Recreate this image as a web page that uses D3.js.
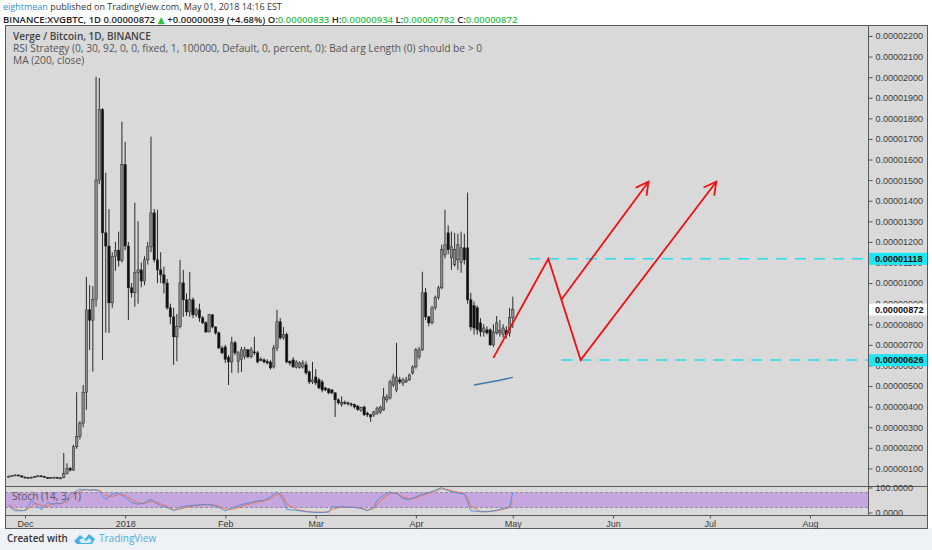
<!DOCTYPE html>
<html><head><meta charset="utf-8">
<script src="https://cdn.jsdelivr.net/npm/d3@7"></script>
<style>
html,body{margin:0;padding:0;background:#ffffff;}
svg{display:block;}
</style></head><body>
<svg id="chart" width="932" height="550"></svg>
<script>
// ---------- DATA (prices in units of 0.00000001 BTC) ----------
const firstDay = "2017-11-26";
const opens  = [60,62,66,68,64,58,56,55,57,60,64,62,56,52,55,57,54,
 55,75,100,92,205,255,320,470,870,820,920,1500,1842,1244,1180,904,1130,1160,1110,1575,1180,977,953,1050,1064,1010,1113,1176,1341,1113,1064,1040,1000,880,836,739,
 790,1001,919,860,919,846,870,831,807,763,846,787,758,685,690,640,617,710,620,630,645,676,642,666,661,630,627,620,617,593,685,812,734,750,620,627,590,590,593,603,569,520,544,530,520,491,486,481,467,433,410,420,418,413,410,403,381,398,369,360,360,369,374,384,433,442,505,481,530,515,520,530,564,593,642,676,953,836,807,880,929,977,1137,1244,1123,1089,1113,1100,1171,1171,919,890,880,807,763,773,773,700,758,758,750,770,758,833];
const highs  = [66,69,71,70,66,60,58,60,63,67,66,63,58,58,60,59,57,
 175,125,108,215,470,330,505,1030,990,985,2002,1996,1850,1536,1360,1150,1200,1250,1784,1686,1200,1000,1390,1300,1100,1130,1200,1711,1360,1356,1150,1080,1020,900,880,850,
 1113,1064,950,1055,930,880,900,840,815,850,850,790,765,695,700,650,739,720,670,690,690,680,690,739,670,640,635,630,625,700,870,830,787,760,625,640,625,620,625,620,575,617,583,540,530,495,490,485,470,440,450,430,425,420,415,408,400,405,375,365,380,400,405,491,460,530,560,710,545,540,545,560,600,685,690,1055,977,840,890,940,987,1186,1356,1280,1250,1244,1240,1250,1240,1439,953,910,890,830,800,790,780,800,840,820,800,790,880,934];
const lows   = [58,60,63,62,56,53,52,53,55,58,59,54,50,50,53,51,50,
 52,70,85,88,195,240,300,385,675,570,885,1480,627,760,758,880,1060,1080,1100,1160,821,930,885,900,980,990,1090,1150,1100,1000,1000,950,870,800,603,620,
 780,836,840,836,830,836,812,800,758,760,780,750,680,655,612,505,564,650,564,569,630,635,635,650,610,620,610,605,580,585,670,725,725,610,600,588,585,585,585,555,510,510,505,485,470,475,460,460,350,410,400,410,405,400,390,380,375,355,350,326,350,360,365,380,420,435,495,470,510,500,515,525,555,585,630,670,820,790,800,870,920,970,1120,1140,1064,1080,1064,1050,1090,900,770,750,750,740,740,750,695,690,750,740,735,730,740,782];
const closes = [62,66,68,64,58,56,55,57,60,64,62,56,52,55,57,54,52,
 75,100,92,205,255,320,470,870,820,920,1500,1842,1244,1180,904,1130,1160,1110,1575,1180,977,953,1050,1064,1010,1113,1176,1341,1113,1064,1040,1000,880,836,739,790,
 1001,919,860,919,846,870,831,807,763,846,787,758,685,661,630,617,710,661,661,676,676,642,676,661,617,627,617,612,588,685,812,734,750,617,612,593,617,612,612,564,520,530,515,491,481,481,467,467,433,418,420,418,413,408,398,386,395,360,360,350,374,393,398,447,447,520,544,544,520,530,530,554,593,676,676,953,836,807,880,929,977,1162,1186,1162,1176,1162,1186,1171,1113,919,787,782,773,763,782,758,700,763,807,770,782,750,833,872];

// Stochastic (14,3,1): day offsets from 2017-12-01, %K and %D (0-100)
const stochDays = [-5,-4,-3,-1,0,1,2,3,5,6,7,8,9,10,11,12,13,14,15,17,18,19,20,21,22,23,24,25,27,29,31,33,35,37,39,40,42,44,46,48,50,53,55,57,59,60,62,64,66,68,70,72,74,76,78,79,80,81,84,87,89,92,94,95,98,102,104,106,108,109,111,113,114,115,117,119,121,122,125,127,129,131,133,136,137,138,141,143,146,148,150,151];
const stochK = [27,15,7,7,9,25,47,38,10,25,40,35,33,38,35,45,53,73,80,93,90,92,88,92,90,85,67,53,73,78,60,40,33,38,53,42,27,20,7,20,27,30,32,33,25,20,7,18,28,35,40,47,49,63,83,69,49,12,9,3,1,0,3,23,23,20,16,7,23,49,69,83,76,76,56,52,63,69,80,89,100,87,80,73,43,7,3,3,9,16,23,80];
const stochD = [32,22,12,8,8,14,27,37,30,24,25,33,36,35,35,39,44,57,69,85,88,92,90,90,90,89,80,68,64,72,70,52,38,36,45,45,35,24,12,13,21,28,30,32,29,25,14,12,20,29,36,42,46,55,72,74,62,35,12,5,2,1,2,12,22,21,18,10,15,35,58,76,78,77,62,54,58,65,76,86,95,92,84,76,58,25,5,3,7,13,20,45];

// Axis ticks
const priceTicks = [100,200,300,400,500,600,700,800,900,1000,1100,1200,1300,1400,1500,1600,1700,1800,1900,2000,2100,2200];
const monthDates = ["2017-12-01","2018-01-01","2018-02-01","2018-03-01","2018-04-01","2018-05-01","2018-06-01","2018-07-01","2018-08-01"];
const monthLabels = ["Dec","2018","Feb","Mar","Apr","May","Jun","Jul","Aug"];

// Drawings
const zigzagPath = [["2018-04-25",637],["2018-05-12",1118],["2018-05-22",626],["2018-07-03",1492]];
const arrowPath2 = [["2018-05-16",919],["2018-06-12",1492]];
const levelPrices = [1118, 626];
const levelStarts = ["2018-05-06","2018-05-16"];
const maPath = [["2018-04-19",505],["2018-04-27",528],["2018-05-01",542]];
const lastPrice = 872;

// ---------- DRAW ----------
const parse = d3.utcParse("%Y-%m-%d");
const svg = d3.select("#chart");
const W = 932, H = 550;
const paneL = 5, paneR = 868, frameR = 927, paneT = 25, paneB = 486, stochB = 515, frameB = 528;

const x = d3.scaleUtc().domain([parse("2017-12-01"), parse("2018-08-01")]).range([25, 810]);
const y = d3.scaleLinear().domain([0, 2200]).range([489, 36]);
const sy = d3.scaleLinear().domain([0, 100]).range([512.5, 487.5]);

const start = parse(firstDay);
const candles = opens.map((o, i) => ({date: d3.utcDay.offset(start, i), o, h: highs[i], l: lows[i], c: closes[i]}));

// backgrounds
svg.append("rect").attr("x",0).attr("y",0).attr("width",W).attr("height",H).attr("fill","#ffffff");
svg.append("rect").attr("x",0).attr("y",frameB).attr("width",W).attr("height",H-frameB).attr("fill","#eef1f5");
svg.append("rect").attr("x",paneL).attr("y",paneT).attr("width",frameR-paneL).attr("height",frameB-paneT).attr("fill","#d9d9d9");

// stoch band
svg.append("rect").attr("x",paneL).attr("y",sy(80)).attr("width",paneR-paneL).attr("height",sy(20)-sy(80)).attr("fill","#c6a6df");
[80,20].forEach(v => svg.append("line").attr("x1",paneL).attr("x2",paneR).attr("y1",sy(v)).attr("y2",sy(v))
  .attr("stroke","#8a7a9a").attr("stroke-width",0.8).attr("stroke-dasharray","3,2"));

// candles
const g = svg.append("g");
const bw = 2.4;
candles.forEach(d => {
  const cx = x(d.date);
  const up = d.c >= d.o;
  g.append("line").attr("x1",cx).attr("x2",cx).attr("y1",y(d.h)).attr("y2",y(d.l)).attr("stroke","#2a2a2a").attr("stroke-width",1);
  const top = y(Math.max(d.o,d.c)), bot = y(Math.min(d.o,d.c));
  g.append("rect").attr("x",cx-bw/2).attr("y",top).attr("width",bw).attr("height",Math.max(1,bot-top))
    .attr("fill", up ? "#8a8a8a" : "#111111").attr("stroke","#222").attr("stroke-width",0.5);
});

// MA line
svg.append("path").datum(maPath).attr("fill","none").attr("stroke","#3f78b0").attr("stroke-width",1.4)
  .attr("d", d3.line().x(p=>x(parse(p[0]))).y(p=>y(p[1])));

// level dashed lines
levelPrices.forEach((p,i) => {
  svg.append("line").attr("x1",x(parse(levelStarts[i]))).attr("x2",paneR).attr("y1",y(p)).attr("y2",y(p))
    .attr("stroke","#22e0ee").attr("stroke-width",1.5).attr("stroke-dasharray","11,8");
});

// red arrows
const lineGen = d3.line().x(p=>x(parse(p[0]))).y(p=>y(p[1]));
function arrowHead(path){
  const a = path[path.length-2], b = path[path.length-1];
  const x1 = x(parse(a[0])), y1 = y(a[1]), x2 = x(parse(b[0])), y2 = y(b[1]);
  const ang = Math.atan2(y2-y1, x2-x1), L = 14, spread = 0.5;
  const pts = [[x2 - L*Math.cos(ang-spread), y2 - L*Math.sin(ang-spread)],[x2,y2],[x2 - L*Math.cos(ang+spread), y2 - L*Math.sin(ang+spread)]];
  svg.append("path").attr("d", d3.line()(pts)).attr("fill","none").attr("stroke","#f01010").attr("stroke-width",1.8);
}
[zigzagPath, arrowPath2].forEach(pth => {
  svg.append("path").datum(pth).attr("fill","none").attr("stroke","#f01010").attr("stroke-width",1.8).attr("stroke-linejoin","miter").attr("d", lineGen);
  arrowHead(pth);
});

// stoch lines
const sLine = (arr) => d3.line().x((d,i)=>x(d3.utcDay.offset(parse("2017-12-01"), stochDays[i]))).y(v=>sy(v))(arr);
svg.append("path").attr("d", sLine(stochD)).attr("fill","none").attr("stroke","#f0703a").attr("stroke-width",0.9);
svg.append("path").attr("d", sLine(stochK)).attr("fill","none").attr("stroke","#4a8fe0").attr("stroke-width",0.9);

// frame lines
const fr = svg.append("g").attr("stroke","#5a5a5a").attr("stroke-width",1).attr("fill","none");
fr.append("rect").attr("x",paneL+0.5).attr("y",paneT+0.5).attr("width",frameR-paneL).attr("height",frameB-paneT);
fr.append("line").attr("x1",paneL).attr("x2",frameR).attr("y1",paneB+0.5).attr("y2",paneB+0.5);
fr.append("line").attr("x1",paneL).attr("x2",frameR).attr("y1",stochB+0.5).attr("y2",stochB+0.5);
fr.append("line").attr("x1",paneR+0.5).attr("x2",paneR+0.5).attr("y1",paneT).attr("y2",stochB);

const axisFont = "'Liberation Sans', Arial, sans-serif";
// price axis
const ya = svg.append("g").attr("transform",`translate(${paneR+0.5},0)`)
  .call(d3.axisRight(y).tickValues(priceTicks).tickFormat(v => (v*1e-8).toFixed(8)).tickSize(4).tickPadding(3));
ya.select(".domain").remove();
ya.selectAll("line").attr("stroke","#555");
ya.selectAll("text").attr("font-family",axisFont).attr("font-size",9).attr("fill","#3a3a3a");

// stoch axis
const sa = svg.append("g").attr("transform",`translate(${paneR+0.5},0)`)
  .call(d3.axisRight(sy).tickValues([0,100]).tickFormat(v => v.toFixed(4)).tickSize(4).tickPadding(3));
sa.select(".domain").remove();
sa.selectAll("line").attr("stroke","#555");
sa.selectAll("text").attr("font-family",axisFont).attr("font-size",9).attr("fill","#3a3a3a");

// price labels (highlighted)
function priceLabel(v, bg){
  const yy = y(v);
  svg.append("rect").attr("x",paneR+1).attr("y",yy-6).attr("width",frameR-paneR-1).attr("height",12).attr("fill",bg);
  svg.append("text").attr("x",paneR+7).attr("y",yy+3.3).attr("font-family",axisFont).attr("font-size",9.2)
    .attr("font-weight","bold").attr("fill","#111").text((v*1e-8).toFixed(8));
}
priceLabel(levelPrices[0], "#1ee6f2");
priceLabel(lastPrice, "#ffffff");
priceLabel(levelPrices[1], "#1ee6f2");

// time axis
const xa = svg.append("g").attr("transform",`translate(0,${stochB+0.5})`)
  .call(d3.axisBottom(x).tickValues(monthDates.map(parse)).tickFormat((d,i)=>monthLabels[i]).tickSize(3).tickPadding(2));
xa.select(".domain").remove();
xa.selectAll("line").attr("stroke","#555");
xa.selectAll("text").attr("font-family",axisFont).attr("font-size",9).attr("fill","#3a3a3a");

// legend
const legFont = "'Open Sans', 'DejaVu Sans', sans-serif";
svg.append("text").attr("x",13).attr("y",40).attr("font-family",legFont).attr("font-size",10).attr("font-weight",600).attr("fill","#444").text("Verge / Bitcoin, 1D, BINANCE");
svg.append("text").attr("x",13).attr("y",52).attr("font-family",legFont).attr("font-size",10.2).attr("fill","#555").text("RSI Strategy (0, 30, 92, 0, 0, fixed, 1, 100000, Default, 0, percent, 0): Bad arg Length (0) should be > 0");
svg.append("text").attr("x",13).attr("y",64).attr("font-family",legFont).attr("font-size",10.2).attr("fill","#555").text("MA (200, close)");
svg.append("text").attr("x",12).attr("y",500).attr("font-family",legFont).attr("font-size",10.2).attr("fill","#5a5a5a").text("Stoch (14, 3, 1)");

// header
const h1 = svg.append("text").attr("x",3).attr("y",10).attr("font-family",legFont).attr("font-size",9).attr("fill","#333");
h1.append("tspan").attr("fill","#2d8fd8").text("eightmean");
h1.append("tspan").text(" published on TradingView.com, May 01, 2018 14:16 EST");
const green = "#2fbf4a";
const h2 = svg.append("text").attr("x",3).attr("y",22.5).attr("font-family",legFont).attr("font-size",9.5).attr("font-weight",600).attr("fill","#222");
h2.append("tspan").text("BINANCE:XVGBTC, 1D 0.00000872 ");
h2.append("tspan").attr("fill",green).text("▲");
h2.append("tspan").text(" +0.00000039 (+4.68%) O:");
h2.append("tspan").attr("fill",green).text("0.00000833");
h2.append("tspan").text(" H:");
h2.append("tspan").attr("fill",green).text("0.00000934");
h2.append("tspan").text(" L:");
h2.append("tspan").attr("fill",green).text("0.00000782");
h2.append("tspan").text(" C:");
h2.append("tspan").attr("fill",green).text("0.00000872");

// footer
svg.append("text").attr("x",7).attr("y",542).attr("font-family",legFont).attr("font-size",9.8).attr("font-weight",600).attr("fill","#333").text("Created with");
const logo = svg.append("g").attr("transform","translate(74,533)").attr("fill","#45b3e6");
logo.append("path").attr("d","M0,8 L6,2 L11,6 L15,1 L21,6 L18,11 L3,11 Z");
logo.append("path").attr("d","M5,7 L9,5 L12,8 L15,5 L18,8 L16,10 L7,10 Z").attr("fill","#d7eef9");
svg.append("text").attr("x",99).attr("y",542).attr("font-family",legFont).attr("font-size",10).attr("fill","#49b0e4").text("TradingView");
</script>
</body></html>
